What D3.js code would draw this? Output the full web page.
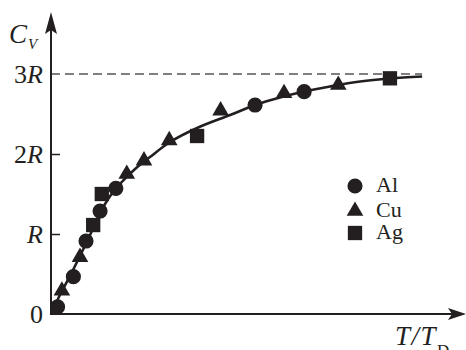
<!DOCTYPE html>
<html>
<head>
<meta charset="utf-8">
<script src="https://cdn.jsdelivr.net/npm/d3@7"></script>
<style>
  html, body { margin: 0; padding: 0; background: #fff; }
  svg { display: block; }
  text { font-family: "Liberation Serif", "DejaVu Serif", serif; fill: #231f20; }
</style>
</head>
<body>
<svg id="chart" width="466" height="350"></svg>
<script>
// ---- data (x = T/T_D, y = C_V in units of R) ----
const alX = [0.023, 0.078, 0.122, 0.171, 0.226, 0.711, 0.882];
const alY = [0.09, 0.467, 0.912, 1.287, 1.571, 2.612, 2.779];

const cuX = [0.038, 0.101, 0.264, 0.324, 0.412, 0.591, 0.812, 1.001];
const cuY = [0.29, 0.71, 1.75, 1.916, 2.169, 2.541, 2.759, 2.862];

const agX = [0.147, 0.177, 0.509, 1.181];
const agY = [1.112, 1.5, 2.225, 2.946];

const curveX = [0, 0.031, 0.066, 0.101, 0.136, 0.171, 0.206, 0.240, 0.293, 0.345, 0.415, 0.509, 0.624, 0.711, 0.798, 0.882, 0.972, 1.077, 1.181, 1.293];
const curveY = [0, 0.237, 0.475, 0.725, 0.987, 1.262, 1.475, 1.625, 1.812, 1.962, 2.15, 2.325, 2.487, 2.612, 2.706, 2.781, 2.844, 2.906, 2.944, 2.969];

const limitY = 3;          // classical limit 3R
const yTickValues = [0, 1, 2, 3];
const yTickLabels = ["0", "R", "2R", "3R"];
const legendNames = ["Al", "Cu", "Ag"];

// ---- layout ----
const ink = "#231f20";
const svg = d3.select("#chart");
const x = d3.scaleLinear().domain([0, 1.446]).range([51, 466]);
const y = d3.scaleLinear().domain([0, 1]).range([314, 234]);

// dashed 3R line
svg.append("line")
  .attr("x1", x(0)).attr("x2", x(1.293))
  .attr("y1", y(limitY)).attr("y2", y(limitY))
  .attr("stroke", "#555").attr("stroke-width", 1.6)
  .attr("stroke-dasharray", "9,5");

// y axis with ticks
const yAxis = d3.axisLeft(y)
  .tickValues(yTickValues)
  .tickSizeInner(-9).tickSizeOuter(0).tickPadding(8)
  .tickFormat((d, i) => "");
const gy = svg.append("g").attr("transform", `translate(${x(0)},0)`).call(yAxis);
gy.select(".domain").remove();
gy.selectAll(".tick line")
  .attr("stroke", ink).attr("stroke-width", 1.5)
  .attr("display", d => (d === 0 || d === 3) ? "none" : null);
gy.selectAll(".tick text").each(function(d, i) {
  const t = d3.select(this)
    .attr("font-size", 26)
    .attr("fill", ink)
    .attr("dy", "0.33em")
    .style("font-family", "Liberation Serif, serif");
  const lab = yTickLabels[i];
  if (lab.endsWith("R")) {
    const num = lab.slice(0, -1);
    if (num) t.append("tspan").text(num);
    t.append("tspan").attr("font-style", "italic").text("R");
  } else {
    t.text(lab);
  }
});

// axes lines with arrows
svg.append("line")
  .attr("x1", x(0)).attr("x2", x(0))
  .attr("y1", y(0) + 1).attr("y2", 30)
  .attr("stroke", ink).attr("stroke-width", 2);
svg.append("path")
  .attr("d", `M${x(0)},12 L${x(0) - 6},34 L${x(0)},30 L${x(0) + 6},34 Z`)
  .attr("fill", ink);
svg.append("line")
  .attr("x1", x(0) - 1).attr("x2", 452)
  .attr("y1", y(0)).attr("y2", y(0))
  .attr("stroke", ink).attr("stroke-width", 2);
svg.append("path")
  .attr("d", `M466,${y(0)} L448,${y(0) - 6} L452,${y(0)} L448,${y(0) + 6} Z`)
  .attr("fill", ink);

// theory curve
const line = d3.line()
  .x((d, i) => x(curveX[i]))
  .y((d, i) => y(curveY[i]))
  .curve(d3.curveCatmullRom.alpha(0.5));
svg.append("path")
  .datum(curveX)
  .attr("d", line)
  .attr("fill", "none")
  .attr("stroke", ink)
  .attr("stroke-width", 2.6);

// markers
const symCircle = d3.symbol().type(d3.symbolCircle).size(180);
const symTri = d3.symbol().type(d3.symbolTriangle).size(120);
const symSq = d3.symbol().type(d3.symbolSquare).size(205);

function drawSeries(xs, ys, sym) {
  svg.append("g").selectAll("path")
    .data(xs)
    .join("path")
    .attr("transform", (d, i) => `translate(${x(d)},${y(ys[i])})`)
    .attr("d", sym())
    .attr("fill", ink);
}
drawSeries(alX, alY, symCircle);
drawSeries(cuX, cuY, symTri);
drawSeries(agX, agY, symSq);

// legend
const legSyms = [symCircle, symTri, symSq];
const legY = [186, 211, 233];
const legBase = [192, 217, 239];
legendNames.forEach((name, i) => {
  svg.append("path")
    .attr("transform", `translate(355,${legY[i]})`)
    .attr("d", legSyms[i]())
    .attr("fill", ink);
  svg.append("text")
    .attr("x", 376).attr("y", legBase[i])
    .attr("font-size", 22)
    .text(name);
});

// y label C_V
const yl = svg.append("text").attr("x", 9).attr("y", 43).attr("font-size", 27);
yl.append("tspan").attr("font-style", "italic").text("C");
yl.append("tspan").attr("font-style", "italic").attr("font-size", 15).attr("dy", 6).attr("dx", 1).text("V");

// x label T/T_D
const xl = svg.append("text").attr("x", 395).attr("y", 345).attr("font-size", 27).attr("letter-spacing", 1.5);
xl.append("tspan").attr("font-style", "italic").text("T/T");
xl.append("tspan").attr("font-size", 17).attr("dy", 11).attr("letter-spacing", 0).text("D");
</script>
</body>
</html>
